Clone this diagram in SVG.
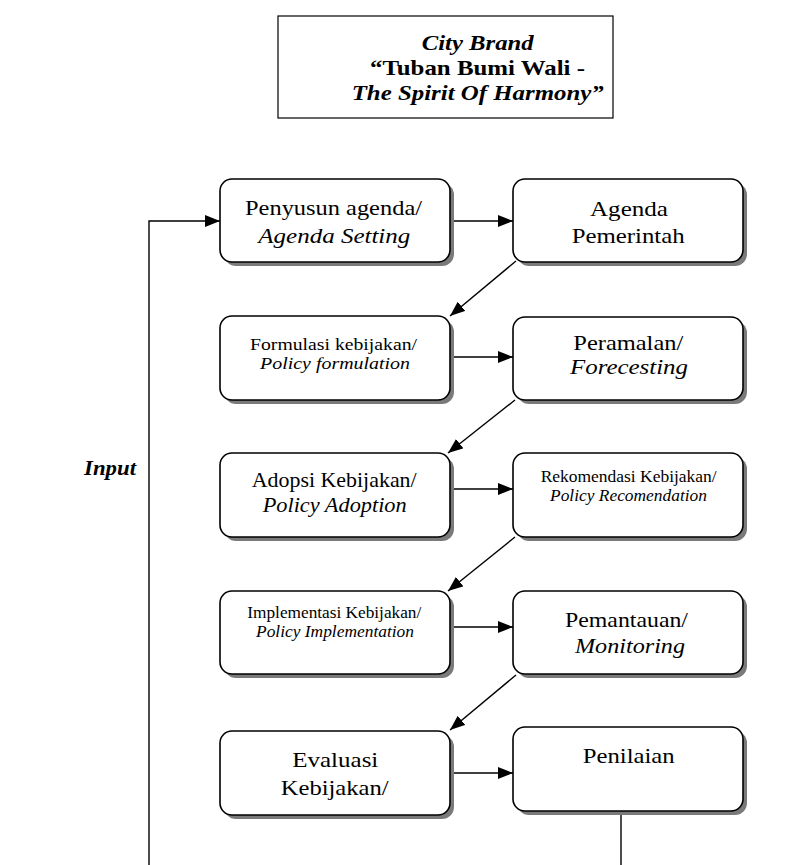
<svg xmlns="http://www.w3.org/2000/svg" width="801" height="865" viewBox="0 0 801 865">
  <style>
    .bg { fill: #ffffff; }
    .box { fill: #ffffff; stroke: #000000; stroke-width: 1.6; }
    .shadow { fill: #7a7a7a; stroke: none; }
    .title { fill: #ffffff; stroke: #000000; stroke-width: 1.2; }
    .t { font-family: "Liberation Serif", "Times New Roman", serif; fill: #000000; }
    .big { font-size: 22px; }
    .small { font-size: 17px; }
    .it { font-style: italic; }
    .b { font-weight: bold; }
    .conn { stroke: #000000; stroke-width: 1.4; fill: none; }
  </style>
  <defs>
    <marker id="ah" markerWidth="15" markerHeight="12" refX="15" refY="6" orient="auto" markerUnits="userSpaceOnUse">
      <path d="M0,0 L15,6 L0,12 z" fill="#000000"/>
    </marker>
  </defs>
  <rect class="bg" x="0" y="0" width="801" height="865"/>

  <g id="title">
    <rect class="title" x="278" y="16" width="335" height="102"/>
    <text class="t big b it" x="421.7" y="50" textLength="112" lengthAdjust="spacingAndGlyphs">City Brand</text>
    <text class="t big b" x="370" y="75" textLength="215" lengthAdjust="spacingAndGlyphs">“Tuban Bumi Wali -</text>
    <text class="t big b it" x="351.7" y="100" textLength="252" lengthAdjust="spacingAndGlyphs">The Spirit Of Harmony”</text>
  </g>

  <g id="input-label">
    <text class="t big b it" x="84" y="475" textLength="52" lengthAdjust="spacingAndGlyphs">Input</text>
  </g>

  <g id="connectors">
    <polyline class="conn" points="149,865 149,221 220,221" marker-end="url(#ah)"/>
    <line class="conn" x1="450" y1="221" x2="513" y2="221" marker-end="url(#ah)"/>
    <line class="conn" x1="516" y1="261" x2="450" y2="316" marker-end="url(#ah)"/>
    <line class="conn" x1="450" y1="357" x2="513" y2="357" marker-end="url(#ah)"/>
    <line class="conn" x1="515" y1="400" x2="448" y2="453" marker-end="url(#ah)"/>
    <line class="conn" x1="450" y1="489" x2="513" y2="489" marker-end="url(#ah)"/>
    <line class="conn" x1="515" y1="537" x2="448" y2="591" marker-end="url(#ah)"/>
    <line class="conn" x1="450" y1="627" x2="513" y2="627" marker-end="url(#ah)"/>
    <line class="conn" x1="516" y1="675" x2="450" y2="730" marker-end="url(#ah)"/>
    <line class="conn" x1="450" y1="773" x2="513" y2="773" marker-end="url(#ah)"/>
    <line class="conn" x1="621" y1="811" x2="621" y2="865"/>
  </g>

  <g id="penyusun">
    <rect class="shadow" x="224" y="183" width="230" height="83" rx="12"/>
    <rect class="box" x="220" y="179" width="230" height="83" rx="12"/>
    <text class="t big" x="245" y="215" textLength="177" lengthAdjust="spacingAndGlyphs">Penyusun agenda/</text>
    <text class="t big it" x="258.3" y="243" textLength="152" lengthAdjust="spacingAndGlyphs">Agenda Setting</text>
  </g>

  <g id="agenda">
    <rect class="shadow" x="517" y="183" width="230" height="83" rx="12"/>
    <rect class="box" x="513" y="179" width="230" height="83" rx="12"/>
    <text class="t big" x="590" y="216" textLength="78" lengthAdjust="spacingAndGlyphs">Agenda</text>
    <text class="t big" x="571.7" y="243" textLength="113" lengthAdjust="spacingAndGlyphs">Pemerintah</text>
  </g>

  <g id="formulasi">
    <rect class="shadow" x="224" y="320" width="230" height="84" rx="12"/>
    <rect class="box" x="220" y="316" width="230" height="84" rx="12"/>
    <text class="t small" x="250" y="350" textLength="167" lengthAdjust="spacingAndGlyphs">Formulasi kebijakan/</text>
    <text class="t small it" x="260" y="369" textLength="150" lengthAdjust="spacingAndGlyphs">Policy formulation</text>
  </g>

  <g id="peramalan">
    <rect class="shadow" x="517" y="321" width="230" height="83" rx="12"/>
    <rect class="box" x="513" y="317" width="230" height="83" rx="12"/>
    <text class="t big" x="573.3" y="350" textLength="110" lengthAdjust="spacingAndGlyphs">Peramalan/</text>
    <text class="t big it" x="570" y="374" textLength="118" lengthAdjust="spacingAndGlyphs">Forecesting</text>
  </g>

  <g id="adopsi">
    <rect class="shadow" x="224" y="457" width="230" height="84" rx="12"/>
    <rect class="box" x="220" y="453" width="230" height="84" rx="12"/>
    <text class="t big" x="251.7" y="487" textLength="165" lengthAdjust="spacingAndGlyphs">Adopsi Kebijakan/</text>
    <text class="t big it" x="262.7" y="512" textLength="144" lengthAdjust="spacingAndGlyphs">Policy Adoption</text>
  </g>

  <g id="rekomendasi">
    <rect class="shadow" x="517" y="457" width="230" height="84" rx="12"/>
    <rect class="box" x="513" y="453" width="230" height="84" rx="12"/>
    <text class="t small" x="540.7" y="482" textLength="176" lengthAdjust="spacingAndGlyphs">Rekomendasi Kebijakan/</text>
    <text class="t small it" x="550" y="501" textLength="157" lengthAdjust="spacingAndGlyphs">Policy Recomendation</text>
  </g>

  <g id="implementasi">
    <rect class="shadow" x="224" y="595" width="230" height="83" rx="12"/>
    <rect class="box" x="220" y="591" width="230" height="83" rx="12"/>
    <text class="t small" x="247.3" y="618" textLength="174" lengthAdjust="spacingAndGlyphs">Implementasi Kebijakan/</text>
    <text class="t small it" x="256" y="637" textLength="158" lengthAdjust="spacingAndGlyphs">Policy Implementation</text>
  </g>

  <g id="pemantauan">
    <rect class="shadow" x="517" y="595" width="230" height="83" rx="12"/>
    <rect class="box" x="513" y="591" width="230" height="83" rx="12"/>
    <text class="t big" x="565" y="627" textLength="123" lengthAdjust="spacingAndGlyphs">Pemantauan/</text>
    <text class="t big it" x="575" y="653" textLength="110" lengthAdjust="spacingAndGlyphs">Monitoring</text>
  </g>

  <g id="evaluasi">
    <rect class="shadow" x="224" y="735" width="230" height="84" rx="12"/>
    <rect class="box" x="220" y="731" width="230" height="84" rx="12"/>
    <text class="t big" x="292.3" y="767" textLength="86" lengthAdjust="spacingAndGlyphs">Evaluasi</text>
    <text class="t big" x="280.7" y="795" textLength="108" lengthAdjust="spacingAndGlyphs">Kebijakan/</text>
  </g>

  <g id="penilaian">
    <rect class="shadow" x="517" y="731" width="230" height="84" rx="12"/>
    <rect class="box" x="513" y="727" width="230" height="84" rx="12"/>
    <text class="t big" x="582.7" y="763" textLength="92" lengthAdjust="spacingAndGlyphs">Penilaian</text>
  </g>
</svg>
